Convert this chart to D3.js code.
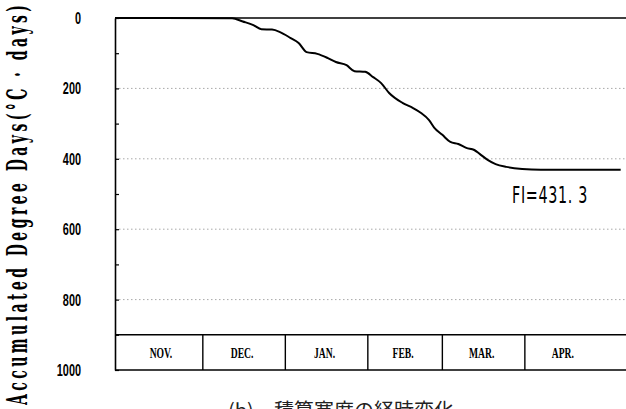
<!DOCTYPE html>
<html><head><meta charset="utf-8">
<script src="https://cdn.jsdelivr.net/npm/d3@7"></script>
<style>body{margin:0;background:#fff}svg{display:block}</style>
</head><body>
<svg id="chart" width="626" height="409"></svg>
<script>
// ---- data ----
const dates = ["1990-10-29","1990-12-12","1990-12-16","1990-12-20","1990-12-23","1990-12-27","1990-12-30",
 "1991-01-03","1991-01-06","1991-01-09","1991-01-13","1991-01-17","1991-01-20","1991-01-24","1991-01-27","1991-01-31",
 "1991-02-03","1991-02-06","1991-02-09","1991-02-14","1991-02-18","1991-02-21","1991-02-24","1991-02-26",
 "1991-03-01","1991-03-04","1991-03-07","1991-03-10","1991-03-13","1991-03-15","1991-03-18","1991-03-21","1991-03-25","1991-03-31",
 "1991-04-07","1991-05-07"];
const values = [0,1,10,20,32,33,40,
 57,71,97,102,114,125,134,151,153,
 168,185,213,241,256,270,290,312,
 332,352,358,369,375,386,403,415,423,429,
 431.3,431.3];
const months = ["NOV.","DEC.","JAN.","FEB.","MAR.","APR."];
const monthStarts = ["1990-11-01","1990-12-01","1991-01-01","1991-02-01","1991-03-01","1991-04-01","1991-05-01"];
const yTicks = [0,200,400,600,800,1000];
const yMinor = [0,100,200,300,400,500,600,700,800,900,1000];
const gridVals = [200,400,600,800];
const stripTop = 900;
const fiLabel = "FI=431. 3";
const fiValue = 431.3;
const yTitle = "Accumulated Degree Days(°C · days)";
const caption = "(b)\u3000積算寒度の経時変化";

// ---- drawing ----
const parse = d3.timeParse("%Y-%m-%d");
const svg = d3.select("#chart");
const x = d3.scaleTime().domain([parse("1990-10-29"), parse("1991-05-09")]).range([115, 626]);
const y = d3.scaleLinear().domain([0, 1000]).range([18, 370]);
const x0 = x.range()[0], x1 = x.range()[1];

function condense(sel, f) {
  sel.each(function(){ const w = this.getComputedTextLength(); d3.select(this).attr("textLength", w*f).attr("lengthAdjust","spacingAndGlyphs"); });
}

// gridlines
svg.append("g").selectAll("line").data(gridVals).join("line")
  .attr("x1", x0).attr("x2", x1).attr("y1", d=>y(d)).attr("y2", d=>y(d))
  .attr("stroke", "#a8a8a8").attr("stroke-width", 1).attr("stroke-dasharray", "1.5,2.5");

// top border
svg.append("line").attr("x1", x0).attr("x2", x1).attr("y1", y(0)).attr("y2", y(0))
  .attr("stroke", "#000").attr("stroke-width", 1.6);

// month strip
svg.append("g").selectAll("line").data([stripTop, 1000]).join("line")
  .attr("x1", x0).attr("x2", x1).attr("y1", d=>y(d)).attr("y2", d=>y(d))
  .attr("stroke", "#000").attr("stroke-width", 1.6);
const bounds = monthStarts.map(parse);
svg.append("g").selectAll("line").data(bounds.slice(1, -1)).join("line")
  .attr("x1", d=>x(d)).attr("x2", d=>x(d)).attr("y1", y(stripTop)).attr("y2", y(1000))
  .attr("stroke", "#000").attr("stroke-width", 1.4);
const ml = svg.append("g").selectAll("text").data(months).join("text")
  .attr("x", (d,i)=> (Math.max(x0, x(bounds[i])) + Math.min(x1, x(bounds[i+1])))/2 - 2)
  .attr("y", (y(stripTop)+y(1000))/2 + 5.5)
  .attr("text-anchor", "middle")
  .attr("font-family", "Liberation Serif, serif").attr("font-weight", "bold").attr("font-size", 15.5)
  .text(d=>d);
condense(ml, 0.62);

// y axis
const ax = svg.append("g").attr("transform", `translate(${x0},0)`)
  .call(d3.axisRight(y).tickValues(yMinor).tickSize(4).tickSizeOuter(0).tickFormat(""));
ax.select(".domain").attr("stroke-width", 1.6);
ax.selectAll(".tick line").attr("stroke-width", 1.2);

const tl = svg.append("g").selectAll("text").data(yTicks).join("text")
  .attr("x", 81).attr("y", d=>y(d)+6)
  .attr("text-anchor", "end")
  .attr("font-family", "Liberation Sans, sans-serif").attr("font-weight", "bold").attr("font-size", 17)
  .text(d=>d);
condense(tl, 0.64);

// curve
const data = dates.map((d,i)=>({t: parse(d), v: values[i]}));
svg.append("path").datum(data)
  .attr("fill", "none").attr("stroke", "#000").attr("stroke-width", 2).attr("stroke-linejoin", "round")
  .attr("d", d3.line().x(d=>x(d.t)).y(d=>y(d.v)).curve(d3.curveMonotoneX));

// FI label
const fi = svg.append("text").attr("x", 512).attr("y", y(fiValue) + 33)
  .attr("font-family", "DejaVu Sans Condensed, sans-serif").attr("font-size", 23)
  .attr("letter-spacing", 1)
  .text(fiLabel);
fi.attr("textLength", 76).attr("lengthAdjust", "spacingAndGlyphs");

// y title: tall, narrow glyphs spread along the axis
const yt = svg.append("text").attr("transform", "translate(27,205) rotate(-90) scale(0.5,1)")
  .attr("text-anchor", "middle")
  .attr("font-family", "DejaVu Serif, serif").attr("font-weight", "bold").attr("font-size", 28)
  .text(yTitle);
yt.attr("textLength", 400/0.5).attr("lengthAdjust", "spacing");

// caption
svg.append("text").attr("x", 228).attr("y", 418)
  .attr("font-family", "Noto Sans CJK JP, sans-serif").attr("font-size", 20).attr("fill", "#222")
  .text(caption);
</script>
</body></html>
